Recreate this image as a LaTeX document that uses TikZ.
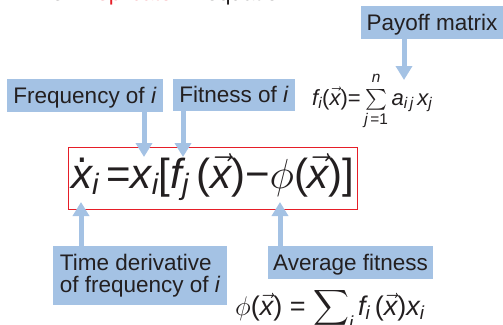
\RequirePackage{fix-cm}
\documentclass[tikz,border=0pt]{standalone}
\usepackage{amsmath}
\usepackage{fontspec}
\setmainfont{Liberation Sans}
\usetikzlibrary{arrows.meta}
\definecolor{boxblue}{RGB}{164,194,228}
\definecolor{ink}{RGB}{35,31,32}
\definecolor{eqred}{RGB}{230,30,40}
\newcommand\mv[1]{\text{\itshape #1}}
\newcommand\vx{\vec{\mv{x}}}
\newcommand\tx[1]{\text{#1}}
\newcommand\xdot{\text{\rlap{\kern0.13em\raisebox{0.6em}{.}}\itshape x}}
\begin{document}
\begin{tikzpicture}[x=1pt,y=-1pt,
  lab/.style={fill=boxblue, text=ink, inner sep=0pt, text height=16pt, text depth=0.5pt, font=\fontsize{22.5}{22}\selectfont},
  arr/.style={draw=boxblue, line width=5pt, -{Triangle[width=16pt,length=14pt]}},
  redbox/.style={draw=eqred, line width=0.8pt, inner sep=0pt},
  formula/.style={text=ink, inner sep=0pt}]
\useasboundingbox (0,0) rectangle (503,324);
% title (cut off at the top edge)
\node[formula, anchor=base east, font=\fontsize{22}{22}\selectfont] (title0) at (64,0.3) {The};
\node[formula, anchor=base west, text=eqred, font=\fontsize{22}{22}\selectfont] (title1) at (89,0.3) {replicator};
\node[formula, anchor=base west, font=\fontsize{22}{22}\selectfont] (title2) at (206,0.3) {equation};
% labels
\node[lab, minimum width=142, minimum height=33] (payoff) at (432,22.5) {Payoff matrix};
\node[lab, minimum width=156, minimum height=33] (freq) at (85,95.5) {Frequency of \textit{i}};
\node[lab, minimum width=122, minimum height=32] (fit) at (234,95) {Fitness of \textit{i}};
\node[fill=boxblue, text=ink, font=\fontsize{22.5}{22}\selectfont, minimum width=174, minimum height=59, anchor=north west, align=left, inner sep=0pt] (time) at (53,246) {Time derivative\\of frequency of \textit{i}};
\node[lab, minimum width=165, minimum height=33] (avg) at (350.5,262.5) {Average fitness};
% main equation
\node[redbox, minimum width=289, minimum height=62, anchor=north west] (eq) at (68,147) {};
\node[formula, anchor=base west, font=\fontsize{42}{42}\selectfont] (eqtext) at (71,188)
  {$\xdot_{\mv{i}}\,\tx{=}\mv{x}_{\mv{i}}\tx{[}\mv{f}_{\mv{j}}\,\tx{(}\vx\tx{)}\tx{−}\phi\tx{(}\vx\tx{)]}$};
% formulas
\node[formula, anchor=base west, font=\fontsize{22}{22}\selectfont] (fform) at (312,105)
  {$\mv{f}_{\mv{i}}\tx{(}\vx\tx{)=}\sum\limits_{\rule{0pt}{11pt}\mv{j}\,\tx{=}\tx{1}}^{\mv{n}\rule[-4pt]{0pt}{0pt}}\mv{a}_{\mv{i\,j}}\,\mv{x}_{\mv{j}}$};
\node[formula, anchor=base west, font=\fontsize{27}{27}\selectfont] (phiform) at (235,315)
  {$\phi\tx{(}\vx\tx{)} \mathrel{\tx{=}} \displaystyle\sum\nolimits_{\mv{i}} \mv{f}_{\mv{i}}\,\tx{(}\vx\tx{)}\mv{x}_{\mv{i}}$};
% arrows
\coordinate (tp) at (404,80);
\coordinate (ta) at (144,157);
\coordinate (tb) at (183,157);
\coordinate (tc) at (81,202);
\coordinate (td) at (280,202);
\draw[arr] (payoff.south -| tp) -- (tp);
\draw[arr] (freq.south -| ta) -- (ta);
\draw[arr] (fit.south -| tb) -- (tb);
\draw[arr] (time.north -| tc) -- (tc);
\draw[arr] (avg.north -| td) -- (td);
\end{tikzpicture}
\end{document}
